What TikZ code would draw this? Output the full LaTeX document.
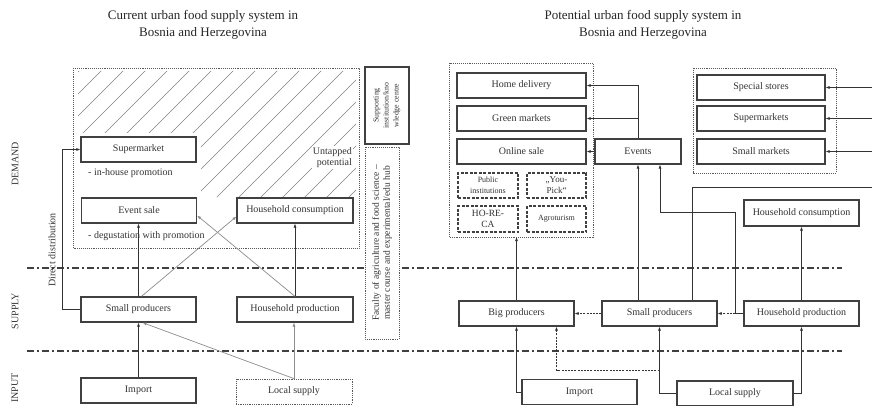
\documentclass[tikz,border=0pt]{standalone}
\usepackage{fontspec}
\setmainfont{Liberation Serif}
\usetikzlibrary{arrows.meta}
\begin{document}
\begin{tikzpicture}[x=1pt,y=-1pt,
  box/.style={draw=black!75, line width=1.2pt, inner sep=0pt, align=center,
    font=\fontsize{10}{11}\selectfont, text=black!80, fill=white},
  dotbox/.style={draw=black!65, line width=0.9pt, densely dotted},
  dashbox/.style={box, dash pattern=on 3pt off 1.5pt, line width=1.1pt},
  arr/.style={draw=black!80, line width=0.7pt, -{Latex[length=4pt,width=3pt]}},
  garr/.style={arr, draw=black!45},
  darr/.style={arr, dash pattern=on 2pt off 1.2pt},
  wire/.style={draw=black!80, line width=0.7pt},
  hatch/.style={draw=black!50, line width=0.6pt},
  band/.style={draw=black!75, line width=1.1pt, dash pattern=on 7pt off 3pt on 2pt off 3pt},
  lbl/.style={text=black!80, font=\fontsize{10}{11}\selectfont, inner sep=0pt},
  ttl/.style={text=black!85, font=\fontsize{13}{17}\selectfont, align=center, inner sep=0pt},
]
\useasboundingbox (0,0) rectangle (872,406);

% titles
\node[ttl] (t1) at (203,24.5) {Current urban food supply system in\\Bosnia and Herzegovina};
\node[ttl] (t2) at (643,24.5) {Potential urban food supply system in\\Bosnia and Herzegovina};

% level labels
\node[lbl, rotate=90] (dem) at (15,164) {DEMAND};
\node[lbl, rotate=90] (sup) at (15,311) {SUPPLY};
\node[lbl, rotate=90] (inp) at (15,388) {INPUT};

% level separators
\draw[band] (27,268) -- (842,268);
\draw[band] (27,351) -- (842,351);

% ---------- current system ----------
\begin{scope}
  \clip (78,71) -- (356,71) -- (356,197) -- (201,197) -- (201,133) -- (78,133) -- cycle;
  \foreach \i in {-7,...,14} \draw[hatch] (80+\i*22,202) -- ++(140,-140);
\end{scope}
\draw[dotbox] (73,68) rectangle (359,248);
\node[lbl, anchor=east, align=right, fill=white, inner sep=1pt] (untap) at (353,157.5) {Untapped\\potential};

\node[box, minimum width=115, minimum height=25] (supL) at (138.5,149.5) {Supermarket};
\node[lbl, anchor=west] (promo1) at (88,173) {- in-house promotion};
\node[box, minimum width=115, minimum height=25] (eventL) at (139,210.5) {Event sale};
\node[lbl, anchor=west] (promo2) at (88,236) {- degustation with promotion};
\node[box, minimum width=116, minimum height=25] (hconsL) at (295,210.5) {Household consumption};
\node[box, minimum width=115, minimum height=25] (smallL) at (138.5,309.5) {Small producers};
\node[box, minimum width=116, minimum height=25] (hprodL) at (295,309.5) {Household production};
\node[box, minimum width=115, minimum height=25] (importL) at (138.5,390.5) {Import};
\node[box, minimum width=116, minimum height=25, draw=black!65, line width=0.8pt, densely dotted] (localL) at (294,391.5) {Local supply};

\node[box, rotate=90, minimum width=77, minimum height=44, font=\fontsize{7.8}{10}\selectfont]
  (support) at (387,105.5) {Supporting\\institution/kno\\wledge centre};
\node[box, rotate=90, minimum width=192, minimum height=34, draw=black!65, line width=0.9pt, densely dotted,
  font=\fontsize{9.5}{11}\selectfont]
  (faculty) at (382,243) {Faculty of agriculture and food science –\\master course and experimental/edu hub};

\node[lbl, rotate=90] (direct) at (52,250) {Direct distribution};
\draw[arr] (smallL.west) -- ++(-18,0) |- (supL.west);
\draw[arr] (importL.north) -- (smallL.south);
\draw[garr] (localL.north) -- ([xshift=4pt]smallL.south);
\draw[garr] (localL.north) -- (localL.north |- hprodL.south);
\draw[arr] (smallL.north) -- (smallL.north |- eventL.south);
\draw[garr] ([xshift=3pt]smallL.north) -- ([yshift=-6pt]hconsL.west);
\draw[arr] (hprodL.north) -- (hconsL.south);
\draw[garr] (hprodL.north) -- ([yshift=-5pt]eventL.east);

% ---------- potential system ----------
\draw[dotbox] (449,63) rectangle (593,237);
\node[box, minimum width=129, minimum height=25] (home) at (521.5,85.5) {Home delivery};
\node[box, minimum width=129, minimum height=25] (green) at (521.5,118.5) {Green markets};
\node[box, minimum width=129, minimum height=25] (online) at (521.5,151.5) {Online sale};
\node[dashbox, minimum width=60, minimum height=25, font=\fontsize{8}{10.5}\selectfont] (public) at (488,185.5) {Public\\institutions};
\node[dashbox, minimum width=59, minimum height=25, font=\fontsize{9}{11}\selectfont] (youpick) at (556.5,185.5) {„You-\\Pick“};
\node[dashbox, minimum width=60, minimum height=26, font=\fontsize{9.5}{11}\selectfont] (horeca) at (488,219) {HO-RE-\\CA};
\node[dashbox, minimum width=59, minimum height=26, font=\fontsize{8}{10}\selectfont] (agro) at (556.5,219) {Agroturism};

\node[box, minimum width=86, minimum height=25] (events) at (638,151.5) {Events};

\draw[dotbox] (693,68) rectangle (836,173);
\node[box, minimum width=128, minimum height=25] (special) at (761,87.5) {Special stores};
\node[box, minimum width=128, minimum height=25] (supmk) at (761,118.5) {Supermarkets};
\node[box, minimum width=128, minimum height=25] (smallmk) at (761,151.5) {Small markets};

\node[box, minimum width=115, minimum height=26] (hconsR) at (801.5,213) {Household consumption};
\node[box, minimum width=115, minimum height=25] (bigR) at (516.5,313.5) {Big producers};
\node[box, minimum width=115, minimum height=25] (smallR) at (659.5,313.5) {Small producers};
\node[box, minimum width=115, minimum height=25] (hprodR) at (801.5,313.5) {Household production};
\node[box, minimum width=115, minimum height=25] (importR) at (579.5,392) {Import};
\node[box, minimum width=116, minimum height=25] (localR) at (735,393.5) {Local supply};

\coordinate (inSpecial) at (872,87.5);
\coordinate (inSupmk) at (872,118.5);
\coordinate (inSmallmk) at (872,151.5);
\coordinate (outSmall) at (872,187);
\coordinate (jHprod) at (735,313.5);
\coordinate (jLocal) at (659.5,370);

\draw[arr] (events.west) -- (online.east);
\draw[arr] (events.north) |- (home.east);
\draw[arr] (events.north |- green.east) -- (green.east);
\draw[arr] (smallR.north -| events.south) -- (events.south);
\draw[wire] (smallR.north -| 692,0) |- (outSmall);
\draw[arr] (inSpecial) -- (special.east);
\draw[arr] (inSupmk) -- (supmk.east);
\draw[arr] (inSmallmk) -- (smallmk.east);
\draw[arr] (hprodR.west) -- (jHprod) -- (735,212) -| ([xshift=22pt]events.south);
\draw[darr] (jHprod) -- (smallR.east);
\draw[darr] (smallR.west) -- (bigR.east);
\draw[arr] (bigR.north) -- (bigR.north |- 0,237);
\draw[arr] (hprodR.north) -- (hconsR.south);
\draw[arr] (importR.west) -| (bigR.south);
\draw[arr] (localR.west) -| (smallR.south);
\draw[arr] (localR.east) -| (hprodR.south);
\draw[darr] (jLocal) -| ([xshift=40pt]bigR.south);
\end{tikzpicture}
\end{document}
